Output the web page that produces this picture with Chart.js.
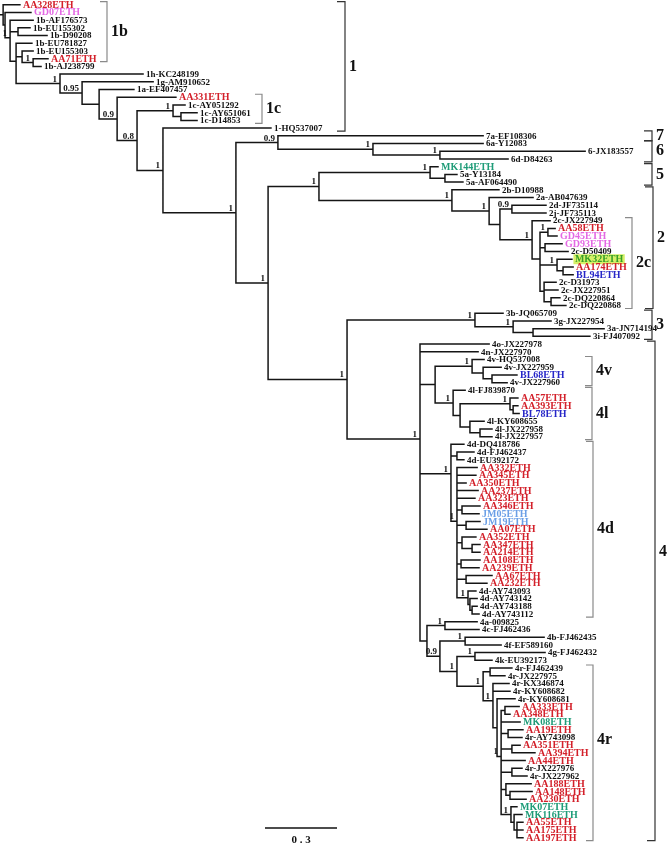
<!DOCTYPE html>
<html><head><meta charset="utf-8">
<script src="https://cdn.jsdelivr.net/npm/chart.js@4"></script>
<style>html,body{margin:0;padding:0;background:#fff;overflow:hidden}canvas{display:block}</style>
</head><body>
<canvas id="c" width="667" height="844"></canvas>
<script>
// ---------------- DATA ----------------
const tipNames = [
"AA328ETH","GD07ETH","1b-AF176573","1b-EU155302","1b-D90208","1b-EU781827","1b-EU155303","AA71ETH","1b-AJ238799",
"1h-KC248199","1g-AM910652","1a-EF407457","AA331ETH","1c-AY051292","1c-AY651061","1c-D14853","1-HQ537007",
"7a-EF108306","6a-Y12083","6-JX183557","6d-D84263","MK144ETH","5a-Y13184","5a-AF064490",
"2b-D10988","2a-AB047639","2d-JF735114","2j-JF735113","2c-JX227949","AA58ETH","GD45ETH","GD93ETH","2c-D50409","MK32ETH","AA174ETH","BL94ETH","2c-D31973","2c-JX227951","2c-DQ220864","2c-DQ220868",
"3b-JQ065709","3g-JX227954","3a-JN714194","3i-FJ407092",
"4o-JX227978","4n-JX227970","4v-HQ537008","4v-JX227959","BL68ETH","4v-JX227960",
"4l-FJ839870","AA57ETH","AA393ETH","BL78ETH","4l-KY608655","4l-JX227958","4l-JX227957",
"4d-DQ418786","4d-FJ462437","4d-EU392172","AA332ETH","AA345ETH","AA350ETH","AA237ETH","AA323ETH","AA346ETH","JM05ETH","JM19ETH","AA07ETH","AA352ETH","AA347ETH","AA214ETH","AA108ETH","AA239ETH","AA67ETH","AA232ETH","4d-AY743093","4d-AY743142","4d-AY743188","4d-AY743112",
"4a-009825","4c-FJ462436","4b-FJ462435","4f-EF589160","4g-FJ462432","4k-EU392173",
"4r-FJ462439","4r-JX227975","4r-KX346874","4r-KY608682","4r-KY608681","AA333ETH","AA348ETH","MK08ETH","AA19ETH","4r-AY743098","AA351ETH","AA394ETH","AA44ETH","4r-JX227976","4r-JX227962","AA188ETH","AA148ETH","AA230ETH","MK07ETH","MK116ETH","AA55ETH","AA175ETH","AA197ETH"
];
// distance of each tip from the root (substitutions/site)
const tipDepth = [
0.083,0.129,0.138,0.125,0.196,0.133,0.138,0.2,0.171,
0.596,0.638,0.558,0.733,0.771,0.821,0.821,1.129,
2.013,2.013,2.438,2.117,1.825,1.904,1.929,
2.079,2.221,2.275,2.275,2.292,2.313,2.321,2.342,2.367,2.383,2.388,2.388,2.317,2.325,2.333,2.358,
2.096,2.296,2.517,2.458,
2.038,1.992,2.017,2.088,2.154,2.113,
1.938,2.158,2.158,2.163,2.017,2.05,2.05,
1.933,1.975,1.933,1.988,1.983,1.942,1.992,1.979,2.0,1.996,2.0,2.029,1.983,2.0,2.0,2.0,1.996,2.05,2.029,1.983,1.988,1.988,1.996,
1.988,1.996,2.267,2.088,2.271,2.05,
2.133,2.104,2.121,2.125,2.146,2.163,2.125,2.167,2.179,2.175,2.167,2.229,2.188,2.175,2.196,2.213,2.217,2.192,2.154,2.175,2.179,2.179,2.179
];
// internal nodes: id, depth from root, posterior support, children (numbers = tip index)
const nodeIds = ["root","g1","b1","b2","b3","b4","b5","h1","g2","a1","c0","c1","c2","c3","m1","m2","s7","s6","s6b","m3","m4","s5","s5b","t2","t2a","t2b","t2c","t2d","c2c","d1","d2","d3","d4","d5","d6","m5","s3","s3a","s3b","s4","v0","v1","v2","v3","l1","l2","l3","l4","l5","l6","q0","q1","q2","q3","q4","q5","q6","q7","q8","q9","q10","q11","e0","e1","e2","e3","e4","e5","r0","r1","r2","r3","r4","r5","r6","r7","r8","r9","r10","r11","r12","r13"];
const nodeDepth = [0.013,0.021,0.042,0.075,0.067,0.092,0.138,0.25,0.342,0.413,0.488,0.571,0.721,0.754,0.679,0.983,1.158,1.554,1.833,1.117,1.329,1.792,1.854,1.883,2.038,2.083,2.133,2.217,2.25,2.283,2.271,2.321,2.346,2.267,2.296,1.446,1.979,2.138,2.221,1.75,1.813,1.967,2.013,2.05,1.888,1.917,2.125,2.138,1.958,2.0,1.879,1.904,1.904,1.925,1.942,1.925,1.967,1.921,1.942,1.95,1.958,1.967,1.779,1.854,1.833,1.938,1.904,1.979,2.013,2.042,2.054,2.071,2.088,2.104,2.117,2.133,2.133,2.108,2.125,2.129,2.142,2.154];
const nodeSupport = ["","","1","","","","1","1","0.95","","0.9","0.8","1","","1","1","0.9","1","1","1","1","1","","1","1","","0.9","1","","1","","1","","","","1","1","1","","1","","1","","","1","","1","","","","1","","1","","","","","","","1","","","","1","0.9","1","1","1","1","","1","","1","","","","","","","1","",""];
const nodeKids = ["0 g1","1 b1","2 b2 b3","3 4","5 b4 h1","6 b5","7 8","9 g2","10 a1","11 c0","12 c1","c2 m1","13 c3","14 15","16 m2","s7 m3","17 s6","18 s6b","19 20","m4 m5","s5 t2","21 s5b","22 23","24 t2a","25 t2b","t2c t2d","26 27","28 c2c","d1 d2 d3 d5","29 30","31 32","33 d4","34 35","36 37 d6","38 39","s3 s4","40 s3a","41 s3b","42 43","44 45 v0 q0 e0","v1 l1","46 v2","47 v3","48 49","50 l2","l3 l5","51 l4","52 53","54 l6","55 56","57 q1 q2","58 59","60 61 62 63 64 q3 q4 q5 q7 q8 q9","65 66","67 68","69 q6","70 71","72 73","74 75","76 q10","77 q11","78 79","e1 e2","80 81","e3 e4","82 83","e5 r0","84 85","r1 r2","86 87","88 89 r3","90 r4","r5 93 r6 r7 98 r8 r9 r11","91 92","94 95","96 97","99 100","101 r10","102 103","104 r12","105 r13","106 107 108"];
// genotype / subtype brackets
const cladeNames = ["1b","1c","1","7","6","5","2","2c","3","4v","4l","4d","4r","4"];
const cladeFirst = ["AA328ETH","AA331ETH","AA328ETH","7a-EF108306","6a-Y12083","MK144ETH","2b-D10988","2c-JX227949","3b-JQ065709","4v-HQ537008","4l-FJ839870","4d-DQ418786","4r-FJ462439","4o-JX227978"];
const cladeLast  = ["AA71ETH","1c-D14853","1-HQ537007","7a-EF108306","6d-D84263","5a-AF064490","2c-DQ220868","2c-DQ220868","3i-FJ407092","4v-JX227960","4l-JX227957","4d-AY743112","AA197ETH","AA197ETH"];
const highlightedTips = ["MK32ETH"];
const scaleBarLength = 0.3;
const scaleBarLabel = "0 . 3";

// ---------------- LAYOUT / STYLE ----------------
const W = 667, H = 844;
const PX_PER_UNIT = 240;
const TIP0 = 4.7, TIP_STEP = 7.713;
const LABEL_GAP = 3;
const SERIF = "'Liberation Serif','Times New Roman',serif";
const COLORS = {AA:'#d3202a', GD:'#e468e4', MK:'#1f9c78', BL:'#2626c8', JM:'#6b9fe6'};
const HL_BG = '#d6f068', HL_TEXT = '#37a026';
const bracketLayout = {
  x:    {"1b":107,"1c":262,"1":345,"7":652,"6":652,"5":652,"2":653,"2c":632,"3":652,"4v":592,"4l":592,"4d":593,"4r":593,"4":655},
  dark: {"1":true,"7":true,"6":true,"5":true,"2":true,"3":true,"4":true},
  labelY: {"4":552,"2":238,"4r":740}
};
const SCALEBAR_X = 265, SCALEBAR_Y = 828;

// ---------------- TREE BUILD ----------------
const nodeIndex = {};
nodeIds.forEach((id,i)=>nodeIndex[id]=i);
const kidsOf = nodeKids.map(s=>s.trim().split(/\s+/));
const isTip = t => /^\d+$/.test(t);
const yMemo = {};
function yOf(t){
  if (isTip(t)) return Number(t);
  if (yMemo[t] !== undefined) return yMemo[t];
  const ks = kidsOf[nodeIndex[t]];
  const v = ks.reduce((a,k)=>a+yOf(k),0)/ks.length;
  yMemo[t] = v; return v;
}
const dOf = t => isTip(t) ? tipDepth[Number(t)] : nodeDepth[nodeIndex[t]];

const branchPts = [];
const GAP = {x:NaN, y:NaN};
// root stub
branchPts.push({x:0, y:yOf("root")}, {x:nodeDepth[0], y:yOf("root")}, GAP);
nodeIds.forEach((id,i)=>{
  const d = nodeDepth[i];
  const ys = kidsOf[i].map(yOf);
  branchPts.push({x:d, y:Math.min(...ys)}, {x:d, y:Math.max(...ys)}, GAP);
  kidsOf[i].forEach(k=>{
    const ky = yOf(k);
    branchPts.push({x:d, y:ky}, {x:dOf(k), y:ky}, GAP);
  });
});
const tipPts = tipNames.map((n,i)=>({x:tipDepth[i], y:i}));

function tipStyle(name){
  const p = name.slice(0,2);
  if (COLORS[p]) return {color: highlightedTips.includes(name) ? HL_TEXT : COLORS[p], font:"bold 10px "+SERIF};
  return {color:'#111', font:"bold 9px "+SERIF};
}

const treeText = {
  id:'treeText',
  afterDatasetsDraw(chart){
    const {ctx, scales:{x, y}} = chart;
    ctx.save();
    // brackets
    cladeNames.forEach((c,i)=>{
      const a = tipNames.indexOf(cladeFirst[i]), b = tipNames.indexOf(cladeLast[i]);
      const pad = a===b ? 5 : 3;
      const top = y.getPixelForValue(a)-pad, bot = y.getPixelForValue(b)+pad;
      const bx = bracketLayout.x[c];
      const dark = bracketLayout.dark[c];
      ctx.strokeStyle = dark ? '#333' : '#8a8a8a';
      ctx.lineWidth = 1.2;
      const tick = dark ? 8 : 7;
      ctx.beginPath();
      ctx.moveTo(bx-tick, top); ctx.lineTo(bx, top); ctx.lineTo(bx, bot); ctx.lineTo(bx-tick, bot);
      ctx.stroke();
      ctx.fillStyle = '#111';
      ctx.font = "bold 16px "+SERIF;
      ctx.textAlign = 'left'; ctx.textBaseline = 'middle';
      const ly = bracketLayout.labelY[c] !== undefined ? bracketLayout.labelY[c] : (top+bot)/2;
      ctx.fillText(c, bx+4, ly);
    });
    // tip labels
    ctx.textAlign='left'; ctx.textBaseline='middle';
    tipNames.forEach((name,i)=>{
      const px = x.getPixelForValue(tipDepth[i]) + LABEL_GAP;
      const py = y.getPixelForValue(i);
      const st = tipStyle(name);
      ctx.font = st.font;
      if (highlightedTips.includes(name)){
        const w = ctx.measureText(name).width;
        ctx.fillStyle = HL_BG;
        ctx.fillRect(px-1.5, py-5, w+3, 10);
      }
      ctx.fillStyle = st.color;
      ctx.fillText(name, px, py+0.5);
    });
    // support values
    ctx.font = "bold 9px "+SERIF;
    ctx.fillStyle = '#111';
    ctx.textAlign='right'; ctx.textBaseline='alphabetic';
    nodeIds.forEach((id,i)=>{
      if (!nodeSupport[i]) return;
      const px = x.getPixelForValue(nodeDepth[i]) - 3;
      const py = y.getPixelForValue(yOf(id)) - 2;
      ctx.fillText(nodeSupport[i], px, py);
    });
    // scale bar
    const len = x.getPixelForValue(scaleBarLength) - x.getPixelForValue(0);
    ctx.strokeStyle = '#111'; ctx.lineWidth = 1.5;
    ctx.beginPath(); ctx.moveTo(SCALEBAR_X, SCALEBAR_Y); ctx.lineTo(SCALEBAR_X+len, SCALEBAR_Y); ctx.stroke();
    ctx.font = "bold 11px "+SERIF; ctx.textAlign='center'; ctx.textBaseline='middle';
    ctx.fillText(scaleBarLabel, SCALEBAR_X+len/2, SCALEBAR_Y+12);
    ctx.restore();
  }
};

new Chart(document.getElementById('c'), {
  type:'scatter',
  data:{datasets:[
    {label:'branches', data:branchPts, showLine:true, spanGaps:false, borderColor:'#151515', borderWidth:1.5,
     borderCapStyle:'square', pointRadius:0, pointHoverRadius:0, clip:false, tension:0},
    {label:'tips', data:tipPts, pointRadius:0, pointHoverRadius:0, showLine:false}
  ]},
  options:{
    responsive:false, animation:false, devicePixelRatio:1, events:[],
    layout:{padding:0},
    plugins:{legend:{display:false}, tooltip:{enabled:false}},
    scales:{
      x:{type:'linear', display:false, min:0, max:W/PX_PER_UNIT},
      y:{type:'linear', display:false, reverse:true, min:-TIP0/TIP_STEP, max:(H-TIP0)/TIP_STEP}
    }
  },
  plugins:[treeText]
});
</script>
</body></html>
